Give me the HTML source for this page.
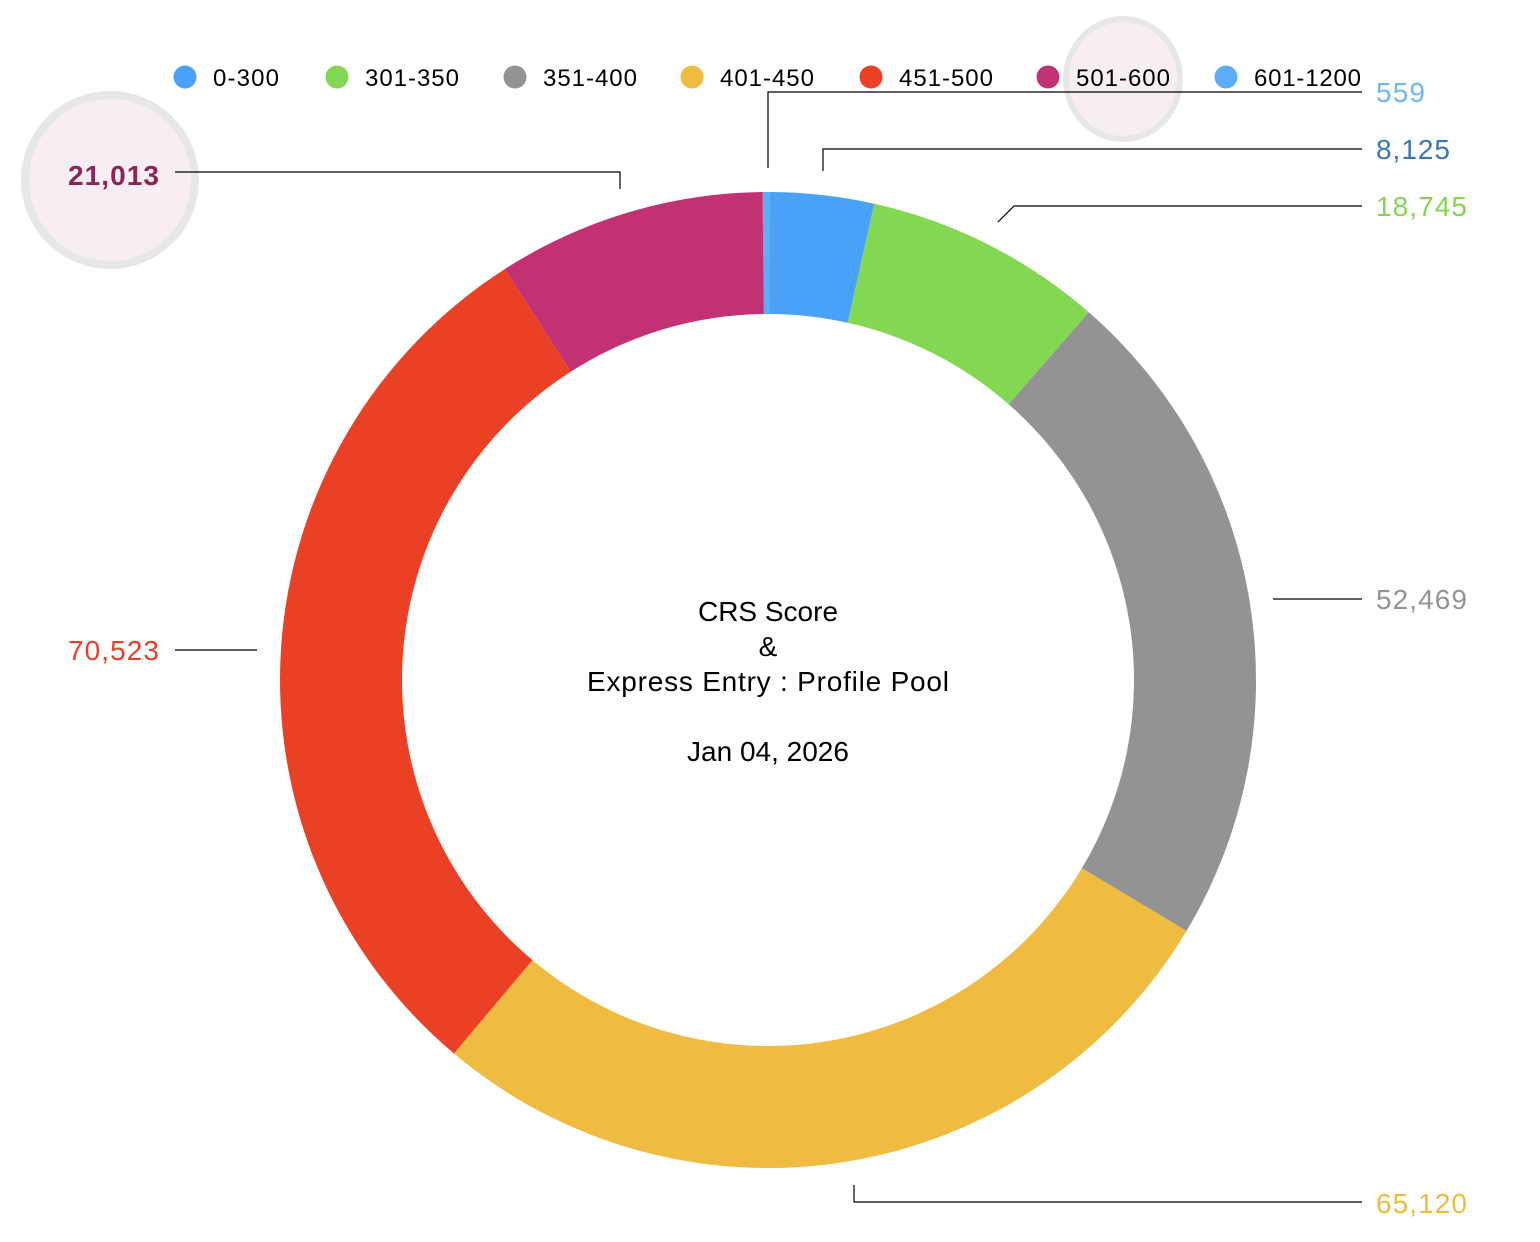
<!DOCTYPE html>
<html><head><meta charset="utf-8"><style>
html,body{margin:0;padding:0;background:#fff;}
svg{display:block;font-family:"Liberation Sans",sans-serif;}
</style></head><body>
<svg id="chart" width="1540" height="1242" viewBox="0 0 1540 1242" xmlns="http://www.w3.org/2000/svg">
<circle cx="110" cy="180" r="85" fill="#f6eef2" stroke="#e7e7e7" stroke-width="8"/>
<ellipse cx="1123" cy="79" rx="57" ry="60" fill="#f6eef2" stroke="#e7e7e7" stroke-width="6"/>
<g id="slices"></g>
<g id="legend"></g>
<g id="leaders" fill="none" stroke="#000" stroke-width="1.2">
<polyline points="768,168 768,92 1362,92"/>
<polyline points="823,171 823,149 1362,149"/>
<polyline points="998,222 1014,206 1362,206"/>
<polyline points="1273,599 1362,599"/>
<polyline points="854,1185 854,1202 1362,1202"/>
<polyline points="257,650 175,650"/>
<polyline points="620,189 620,172 175,172"/>
</g>
<g font-size="28">
<text x="1376" y="102" fill="#6cb8f5" textLength="49">559</text>
<text x="1376" y="159" fill="#3a77b8" textLength="74">8,125</text>
<text x="1376" y="216" fill="#84d64f" textLength="91">18,745</text>
<text x="1376" y="609" fill="#949494" textLength="91">52,469</text>
<text x="1376" y="1213" fill="#efbb3f" textLength="91">65,120</text>
<text x="68" y="660" fill="#e84027" textLength="91">70,523</text>
<text x="68" y="185" fill="#8e2355" font-weight="bold" textLength="91">21,013</text>
</g>
<g font-size="28" text-anchor="middle" fill="#000">
<text x="768" y="621">CRS Score</text>
<text x="768" y="656">&amp;</text>
<text x="768" y="691" textLength="362">Express Entry : Profile Pool</text>
<text x="768" y="761">Jan 04, 2026</text>
</g>
</svg>
<script>
const categories = ["601-1200","0-300","301-350","351-400","401-450","451-500","501-600"];
const values = [559, 8125, 18745, 52469, 65120, 70523, 21013];
const legendOrder = ["0-300","301-350","351-400","401-450","451-500","501-600","601-1200"];
const colors = {"601-1200":"#5cacf8","0-300":"#4aa2f8","301-350":"#84d752","351-400":"#939393","401-450":"#efbb40","451-500":"#ea4026","501-600":"#c13173"};
const NS="http://www.w3.org/2000/svg";
const cx=768, cy=680, R=488, r=366;
const total=values.reduce((a,b)=>a+b,0);
function pt(a,rad){return [cx+rad*Math.sin(a), cy-rad*Math.cos(a)];}
let a0=-(values[0]/total)*2*Math.PI*0.75;
const gs=document.getElementById('slices');
values.forEach((v,i)=>{
  const a1=a0+v/total*2*Math.PI;
  const large=(a1-a0)>Math.PI?1:0;
  const p1=pt(a0,R),p2=pt(a1,R),p3=pt(a1,r),p4=pt(a0,r);
  const p=document.createElementNS(NS,'path');
  p.setAttribute('d',`M${p1[0]},${p1[1]} A${R},${R} 0 ${large} 1 ${p2[0]},${p2[1]} L${p3[0]},${p3[1]} A${r},${r} 0 ${large} 0 ${p4[0]},${p4[1]} Z`);
  p.setAttribute('fill',colors[categories[i]]);
  
  
  gs.appendChild(p);
  a0=a1;
});
const legendX=[185,337,515,692,871,1048,1226];
const legendW=[66,94,94,94,94,94,107];
const gl=document.getElementById('legend');
legendOrder.forEach((c,i)=>{
  const g=document.createElementNS(NS,'g');
  
  
  const dot=document.createElementNS(NS,'circle');
  dot.setAttribute('cx',legendX[i]);dot.setAttribute('cy',77);dot.setAttribute('r',11.5);
  dot.setAttribute('fill',colors[c]);
  
  
  const t=document.createElementNS(NS,'text');
  t.setAttribute('x',legendX[i]+28);t.setAttribute('y',86);t.setAttribute('font-size','24');
  t.setAttribute('textLength',legendW[i]);
  
  
  t.textContent=c;
  g.appendChild(dot);g.appendChild(t);gl.appendChild(g);
});
</script>
</body></html>
